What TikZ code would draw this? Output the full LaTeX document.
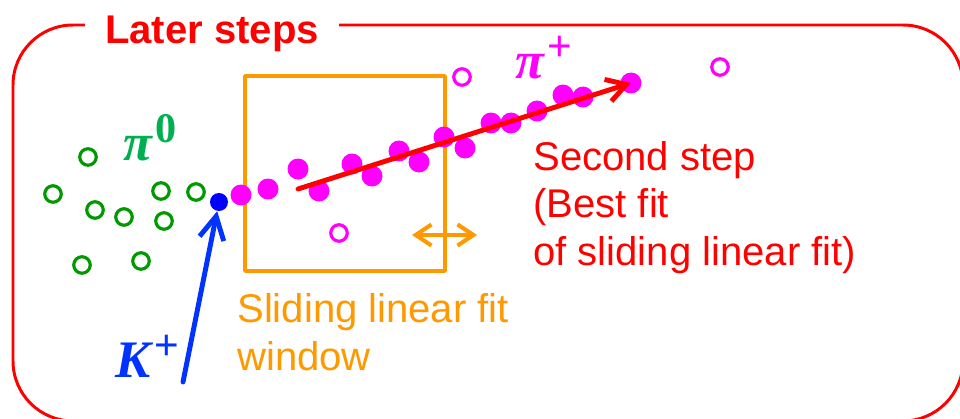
\documentclass[tikz,border=0pt]{standalone}
\usepackage{fontspec}
\setmainfont{Liberation Sans}
\newfontfamily\symfont{Liberation Serif}
\usetikzlibrary{arrows.meta}
\definecolor{rojo}{HTML}{FF0000}
\definecolor{naranja}{HTML}{FF9900}
\definecolor{rosa}{HTML}{FF00FF}
\definecolor{verde}{HTML}{009900}
\definecolor{verdetxt}{HTML}{00B050}
\definecolor{azul}{HTML}{0033FF}
\definecolor{azuldot}{HTML}{0000FF}
\newcommand{\partsym}[2]{{\symfont\bfseries\itshape\fontsize{30}{30}\selectfont #1}%
  \kern2pt\raisebox{10pt}{\fontsize{24}{24}\selectfont #2}}

\begin{document}
\begin{tikzpicture}[x=0.02cm,y=-0.02cm,line cap=round,
    hitdot/.style={circle,fill=rosa,inner sep=0pt,minimum size=0.42cm},
    hitopen/.style={circle,draw=rosa,line width=1.8pt,inner sep=0pt,minimum size=0.33cm},
    gamopen/.style={circle,draw=verde,line width=1.8pt,inner sep=0pt,minimum size=0.33cm},
    txt/.style={anchor=base west,inner sep=0pt,align=left,font=\fontsize{22.8}{27}\selectfont}]
  \useasboundingbox (0,0) rectangle (960,419);
  % outer frame and title
  \draw[rojo,line width=1.7pt,rounded corners=1.2cm] (13,25) rectangle (963,421);
  \node[fill=white,inner xsep=0.4cm,inner ysep=2pt,anchor=base,text=rojo,
        font=\fontsize{22.8}{26.8}\selectfont\bfseries] (title) at (212,43) {Later steps};
  % sliding window
  \draw[naranja,line width=2pt,line join=round] (245,76) rectangle (445,271);
  \coordinate (slideL) at (412,235);
  \coordinate (slideR) at (477,235);
  \draw[naranja,line width=2.3pt,{Straight Barb[length=9pt,width=12pt]}-{Straight Barb[length=9pt,width=12pt]}]
    (slideL) -- (slideR);
  % photon hits
  \foreach \px/\py [count=\i] in {88/157,53/194,95/210,124/217,161/191,196/192,164/221,82/265,141/261}
    \node[gamopen] (g\i) at (\px,\py) {};
  % pion hits
  \foreach \px/\py [count=\i] in {241/195,268/189,298/169,319/191,352/164,372/176,399/151,419/162,
      444/137,465/148,491/123,511/123,537/111,563/95,583/97,631/83}
    \node[hitdot] (p\i) at (\px,\py) {};
  \foreach \px/\py [count=\i] in {462/77,720/67,339/233}
    \node[hitopen] (q\i) at (\px,\py) {};
  \node[circle,fill=azuldot,inner sep=0pt,minimum size=0.36cm] (kdot) at (219,202) {};
  % tracks
  \coordinate (fitstart) at (298,189);
  \draw[rojo,line width=2.8pt,-{Straight Barb[length=11pt,width=13pt]}] (fitstart) -- (p16.center);
  \coordinate (kin) at (183,382);
  \draw[azul,line width=2.8pt,-{Straight Barb[length=13pt,width=14pt]}] (kin) -- (kdot);
  % labels
  \node[txt,text=verdetxt] (pizero) at (123,160) {\partsym{π}{\symfont\bfseries 0}};
  \node[txt,text=rosa] (piplus) at (515,78) {\partsym{π}{+}};
  \node[txt,text=azul] (kplus) at (115,377) {\partsym{K}{+}};
  \node[txt,text=rojo] (second) at (533,265) {Second step\\(Best fit\\of sliding linear fit)};
  \node[txt,text=naranja] (slidetxt) at (237,370) {Sliding linear fit\\window};
\end{tikzpicture}
\end{document}
